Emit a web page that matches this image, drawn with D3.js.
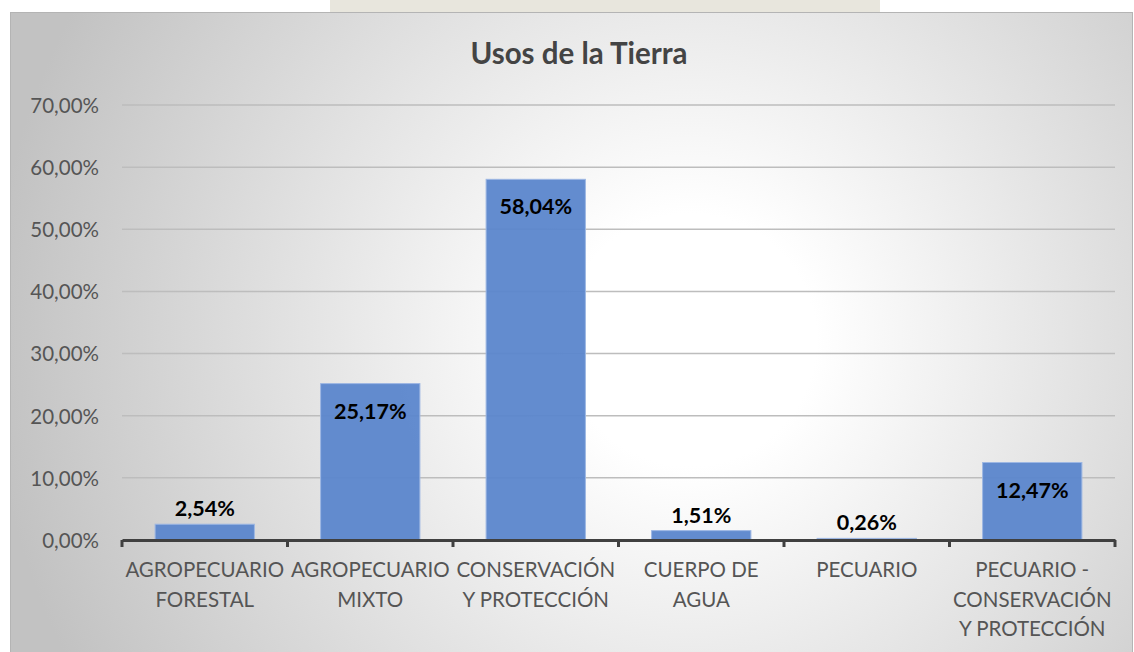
<!DOCTYPE html>
<html>
<head>
<meta charset="utf-8">
<script src="https://cdn.jsdelivr.net/npm/d3@7"></script>
<style>
  html, body { margin: 0; padding: 0; background: #ffffff; }
  svg { display: block; }
</style>
</head>
<body>
<svg id="chart" width="1134" height="652"></svg>
<script>
// ---- data ----
const title = "Usos de la Tierra";
const categories = [
  "AGROPECUARIO\nFORESTAL",
  "AGROPECUARIO\nMIXTO",
  "CONSERVACIÓN\nY PROTECCIÓN",
  "CUERPO DE\nAGUA",
  "PECUARIO",
  "PECUARIO -\nCONSERVACIÓN\nY PROTECCIÓN"
];
const values = [0.0254, 0.2517, 0.5804, 0.0151, 0.0026, 0.1247];
const yTicks = [0, 0.1, 0.2, 0.3, 0.4, 0.5, 0.6, 0.7];

// ---- helpers ----
const pct = (v, d) => (v * 100).toFixed(d).replace(".", ",") + "%";
const FONT = "Lato, 'Open Sans', sans-serif";

const svg = d3.select("#chart");
const defs = svg.append("defs");
const grad = defs.append("radialGradient")
  .attr("id", "bg").attr("gradientUnits", "userSpaceOnUse")
  .attr("cx", 690).attr("cy", 340).attr("r", 700);
grad.append("stop").attr("offset", 0).attr("stop-color", "#ffffff");
grad.append("stop").attr("offset", 0.18).attr("stop-color", "#ffffff");
grad.append("stop").attr("offset", 1).attr("stop-color", "#c2c2c2");

// faint watermark strip above panel
svg.append("rect").attr("x", 330).attr("y", 0).attr("width", 550).attr("height", 12)
  .attr("fill", "#d8d6c6").attr("opacity", 0.6);

// panel
svg.append("rect").attr("x", 10.5).attr("y", 12.5).attr("width", 1122).attr("height", 650)
  .attr("fill", "url(#bg)").attr("stroke", "#b4b4b4").attr("stroke-width", 1);

// scales
const x = d3.scaleBand().domain(categories).range([122, 1115])
  .paddingInner(0.4).paddingOuter(0.2);
const y = d3.scaleLinear().domain([0, 0.7]).range([540, 105]);

// gridlines
svg.append("g").selectAll("line").data(yTicks.filter(t => t > 0)).join("line")
  .attr("x1", 122).attr("x2", 1115)
  .attr("y1", d => y(d)).attr("y2", d => y(d))
  .attr("stroke", "#bdbdbd").attr("stroke-width", 1.5);

// y axis labels
const yAxis = d3.axisLeft(y).tickValues(yTicks).tickFormat(d => pct(d, 2)).tickSize(0).tickPadding(0);
const gy = svg.append("g").attr("transform", "translate(99,0)").call(yAxis);
gy.select(".domain").remove();
gy.selectAll("text").attr("font-family", FONT).attr("font-size", 20.5)
  .attr("fill", "#555555").attr("dy", "0.36em");

// bars
svg.append("g").selectAll("rect").data(values).join("rect")
  .attr("x", (d, i) => x(categories[i]))
  .attr("width", x.bandwidth())
  .attr("y", d => y(d))
  .attr("height", d => y(0) - y(d))
  .attr("fill", "#5b86cc")
  .attr("fill-opacity", 0.95)
  .attr("stroke", "#9db7e3").attr("stroke-width", 1);

// x axis
const xAxis = d3.axisBottom(x).tickSize(0).tickFormat("");
const gx = svg.append("g").attr("transform", "translate(0,540)").call(xAxis);
gx.select(".domain").attr("stroke", "#404040").attr("stroke-width", 3);
// ticks at band boundaries
const bounds = categories.map(c => x(c) - x.step() * x.paddingInner() / 2);
bounds.push(x(categories[categories.length - 1]) + x.bandwidth() + x.step() * x.paddingInner() / 2);
svg.append("g").selectAll("line").data(bounds).join("line")
  .attr("x1", d => d).attr("x2", d => d)
  .attr("y1", 540).attr("y2", 547)
  .attr("stroke", "#404040").attr("stroke-width", 3);

// category labels
const cl = svg.append("g").selectAll("text").data(categories).join("text")
  .attr("x", d => x(d) + x.bandwidth() / 2)
  .attr("y", 577)
  .attr("text-anchor", "middle")
  .attr("font-family", FONT).attr("font-size", 20.5).attr("fill", "#555555");
cl.each(function (d) {
  const t = d3.select(this);
  d.split("\n").forEach((line, k) => {
    t.append("tspan").attr("x", x(d) + x.bandwidth() / 2).attr("dy", k === 0 ? 0 : 29.5).text(line);
  });
});

// data labels
svg.append("g").selectAll("text").data(values).join("text")
  .attr("x", (d, i) => x(categories[i]) + x.bandwidth() / 2)
  .attr("y", d => (y(0) - y(d) > 40) ? y(d) + 35 : y(d) - 8)
  .attr("text-anchor", "middle")
  .attr("font-family", FONT).attr("font-weight", "bold").attr("font-size", 21.5)
  .attr("fill", "#000000")
  .text(d => pct(d, 2));

// title
svg.append("text").attr("x", 579).attr("y", 64).attr("text-anchor", "middle")
  .attr("font-family", FONT).attr("font-weight", "bold").attr("font-size", 29.5)
  .attr("fill", "#444444").text(title);
</script>
</body>
</html>
